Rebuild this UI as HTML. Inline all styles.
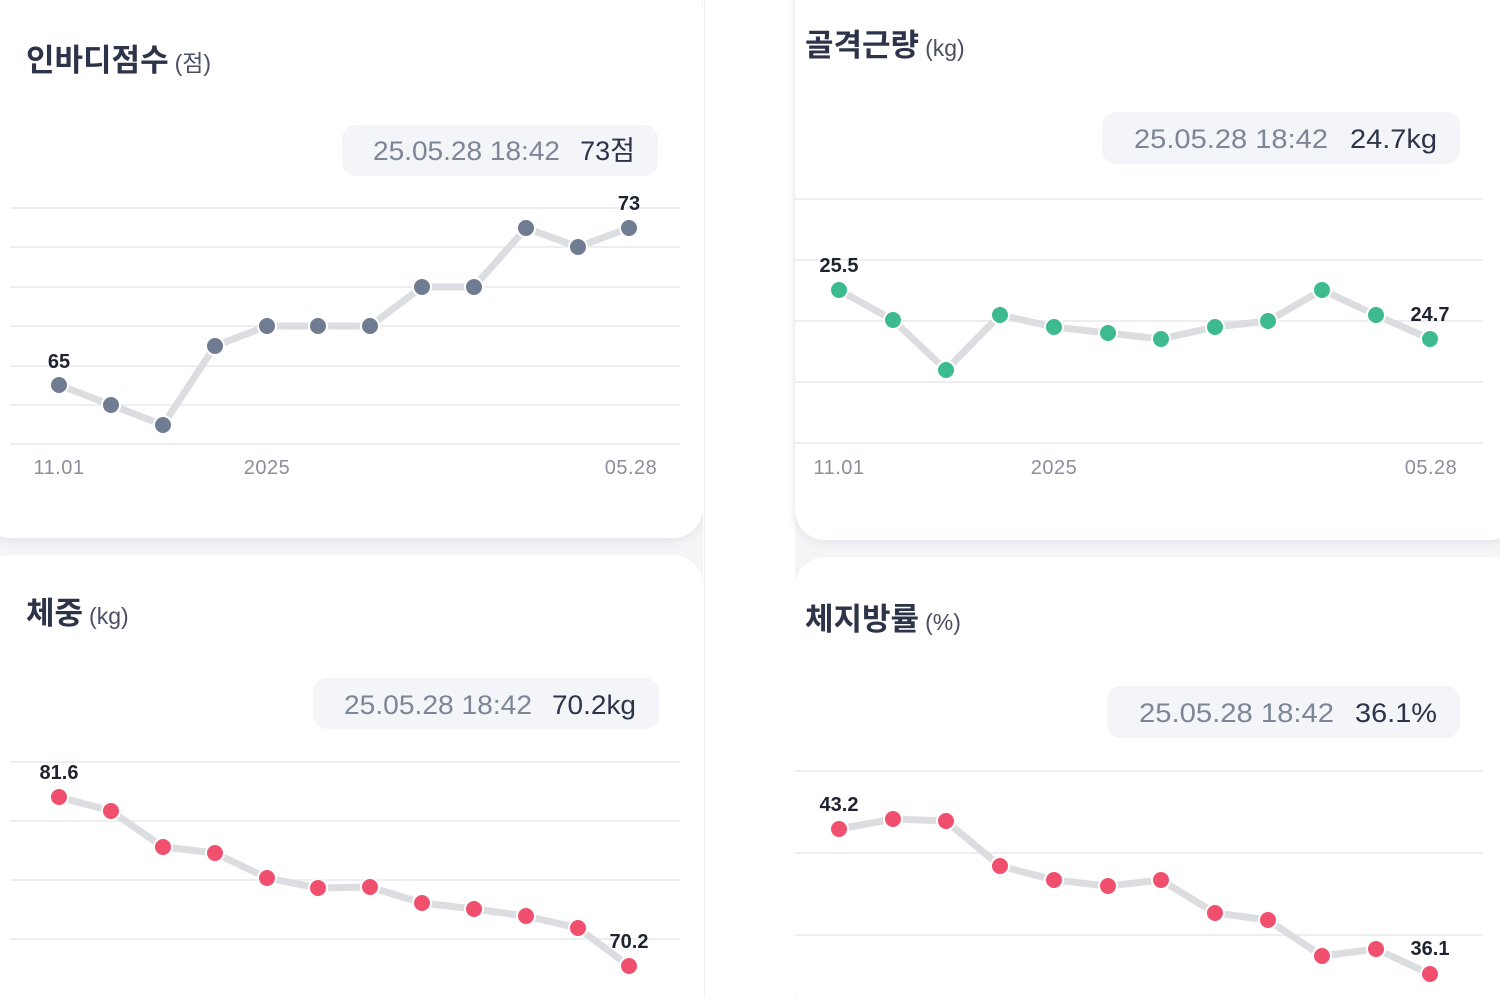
<!DOCTYPE html>
<html><head><meta charset="utf-8"><style>
html,body{margin:0;padding:0;background:#fff;}
svg{display:block;font-family:"Liberation Sans","Noto Sans CJK KR",sans-serif;}
</style></head><body>
<svg width="1500" height="998" viewBox="0 0 1500 998" xmlns="http://www.w3.org/2000/svg">
<defs>
<filter id="sh" x="-10%" y="-10%" width="120%" height="120%"><feGaussianBlur stdDeviation="5"/></filter>
</defs>
<rect width="1500" height="998" fill="#f4f5f7"/>
<rect x="-20" y="-20" width="723" height="560" rx="30" fill="#e2e3e7" filter="url(#sh)"/>
<rect x="-20" y="-20" width="723" height="558" rx="30" fill="#fff"/>
<rect x="-20" y="555" width="723" height="480" rx="30" fill="#fff"/>
<rect x="703" y="0" width="92" height="998" fill="#fff"/>
<line x1="704.5" y1="0" x2="704.5" y2="998" stroke="#eceef1"/>
<rect x="795" y="-40" width="725" height="582" rx="30" fill="#e2e3e7" filter="url(#sh)"/>
<rect x="795" y="-40" width="725" height="580" rx="30" fill="#fff"/>
<rect x="795" y="557" width="725" height="460" rx="30" fill="#fff"/>

<text x="26" y="71" font-size="31" font-weight="bold" fill="#2d3348">인바디점수<tspan font-size="23" font-weight="normal" fill="#4a5062" dx="6">(점)</tspan></text>
<text x="805" y="56" font-size="31" font-weight="bold" fill="#2d3348">골격근량<tspan font-size="23" font-weight="normal" fill="#4a5062" dx="6">(kg)</tspan></text>
<text x="26" y="624" font-size="31" font-weight="bold" fill="#2d3348">체중<tspan font-size="23" font-weight="normal" fill="#4a5062" dx="6">(kg)</tspan></text>
<text x="805" y="630" font-size="31" font-weight="bold" fill="#2d3348">체지방률<tspan font-size="23" font-weight="normal" fill="#4a5062" dx="6">(%)</tspan></text>

<g font-size="27">
<rect x="342" y="125" width="316" height="51" rx="14" fill="#f3f5f8"/>
<text x="373" y="160" fill="#7d8697" textLength="187" lengthAdjust="spacingAndGlyphs">25.05.28 18:42</text><text x="635" y="160" text-anchor="end" fill="#2d3348">73점</text>
<rect x="1102" y="112" width="358" height="52" rx="14" fill="#f3f5f8"/>
<text x="1134" y="148" fill="#7d8697" textLength="194" lengthAdjust="spacingAndGlyphs">25.05.28 18:42</text><text x="1437" y="148" text-anchor="end" fill="#2d3348" textLength="87" lengthAdjust="spacingAndGlyphs">24.7kg</text>
<rect x="313" y="678" width="346" height="51" rx="14" fill="#f3f5f8"/>
<text x="344" y="714" fill="#7d8697" textLength="188" lengthAdjust="spacingAndGlyphs">25.05.28 18:42</text><text x="636" y="714" text-anchor="end" fill="#2d3348" textLength="84" lengthAdjust="spacingAndGlyphs">70.2kg</text>
<rect x="1107" y="686" width="353" height="52" rx="14" fill="#f3f5f8"/>
<text x="1139" y="722" fill="#7d8697" textLength="195" lengthAdjust="spacingAndGlyphs">25.05.28 18:42</text><text x="1437" y="722" text-anchor="end" fill="#2d3348" textLength="82" lengthAdjust="spacingAndGlyphs">36.1%</text>
</g>

<g stroke="#eceef1" stroke-width="2">
<line x1="10" x2="680" y1="208" y2="208"/><line x1="10" x2="680" y1="247" y2="247"/><line x1="10" x2="680" y1="287" y2="287"/><line x1="10" x2="680" y1="326" y2="326"/><line x1="10" x2="680" y1="366" y2="366"/><line x1="10" x2="680" y1="405" y2="405"/><line x1="10" x2="680" y1="444" y2="444"/>
<line x1="795" x2="1483" y1="199" y2="199"/><line x1="795" x2="1483" y1="260" y2="260"/><line x1="795" x2="1483" y1="321" y2="321"/><line x1="795" x2="1483" y1="382" y2="382"/><line x1="795" x2="1483" y1="443" y2="443"/>
<line x1="10" x2="680" y1="762" y2="762"/><line x1="10" x2="680" y1="821" y2="821"/><line x1="10" x2="680" y1="880" y2="880"/><line x1="10" x2="680" y1="939" y2="939"/>
<line x1="795" x2="1483" y1="771" y2="771"/><line x1="795" x2="1483" y1="853" y2="853"/><line x1="795" x2="1483" y1="935" y2="935"/>
</g>

<g font-size="20" fill="#8a8f9c" text-anchor="middle" letter-spacing="0.5">
<text x="59" y="474">11.01</text><text x="267" y="474">2025</text><text x="631" y="474">05.28</text>
<text x="839" y="474">11.01</text><text x="1054" y="474">2025</text><text x="1431" y="474">05.28</text>
</g>

<g fill="none" stroke="#dcdde1" stroke-width="7" stroke-linejoin="round" stroke-linecap="round">
<polyline points="59,385 111,405 163,425 215,346 267,326 318,326 370,326 422,287 474,287 526,228 578,247 629,228"/>
<polyline points="839,290 893,320 946,370 1000,315 1054,327 1108,333 1161,339 1215,327 1268,321 1322,290 1376,315 1430,339"/>
<polyline points="59,797 111,811 163,847 215,853 267,878 318,888 370,887 422,903 474,909 526,916 578,928 629,966"/>
<polyline points="839,829 893,819 946,821 1000,866 1054,880 1108,886 1161,880 1215,913 1268,920 1322,956 1376,949 1430,974"/>
</g>
<g fill="#6f7c91" stroke="#fff" stroke-width="2">
<circle cx="59" cy="385" r="9"/><circle cx="111" cy="405" r="9"/><circle cx="163" cy="425" r="9"/><circle cx="215" cy="346" r="9"/><circle cx="267" cy="326" r="9"/><circle cx="318" cy="326" r="9"/><circle cx="370" cy="326" r="9"/><circle cx="422" cy="287" r="9"/><circle cx="474" cy="287" r="9"/><circle cx="526" cy="228" r="9"/><circle cx="578" cy="247" r="9"/><circle cx="629" cy="228" r="9"/>
</g>
<g fill="#3dbb8f" stroke="#fff" stroke-width="2">
<circle cx="839" cy="290" r="9"/><circle cx="893" cy="320" r="9"/><circle cx="946" cy="370" r="9"/><circle cx="1000" cy="315" r="9"/><circle cx="1054" cy="327" r="9"/><circle cx="1108" cy="333" r="9"/><circle cx="1161" cy="339" r="9"/><circle cx="1215" cy="327" r="9"/><circle cx="1268" cy="321" r="9"/><circle cx="1322" cy="290" r="9"/><circle cx="1376" cy="315" r="9"/><circle cx="1430" cy="339" r="9"/>
</g>
<g fill="#f0506e" stroke="#fff" stroke-width="2">
<circle cx="59" cy="797" r="9"/><circle cx="111" cy="811" r="9"/><circle cx="163" cy="847" r="9"/><circle cx="215" cy="853" r="9"/><circle cx="267" cy="878" r="9"/><circle cx="318" cy="888" r="9"/><circle cx="370" cy="887" r="9"/><circle cx="422" cy="903" r="9"/><circle cx="474" cy="909" r="9"/><circle cx="526" cy="916" r="9"/><circle cx="578" cy="928" r="9"/><circle cx="629" cy="966" r="9"/>
<circle cx="839" cy="829" r="9"/><circle cx="893" cy="819" r="9"/><circle cx="946" cy="821" r="9"/><circle cx="1000" cy="866" r="9"/><circle cx="1054" cy="880" r="9"/><circle cx="1108" cy="886" r="9"/><circle cx="1161" cy="880" r="9"/><circle cx="1215" cy="913" r="9"/><circle cx="1268" cy="920" r="9"/><circle cx="1322" cy="956" r="9"/><circle cx="1376" cy="949" r="9"/><circle cx="1430" cy="974" r="9"/>
</g>

<g font-size="20" font-weight="bold" fill="#1f2330" text-anchor="middle">
<text x="59" y="368">65</text><text x="629" y="210">73</text>
<text x="839" y="272">25.5</text><text x="1430" y="321">24.7</text>
<text x="59" y="779">81.6</text><text x="629" y="948">70.2</text>
<text x="839" y="811">43.2</text><text x="1430" y="955">36.1</text>
</g>
</svg>
</body></html>
